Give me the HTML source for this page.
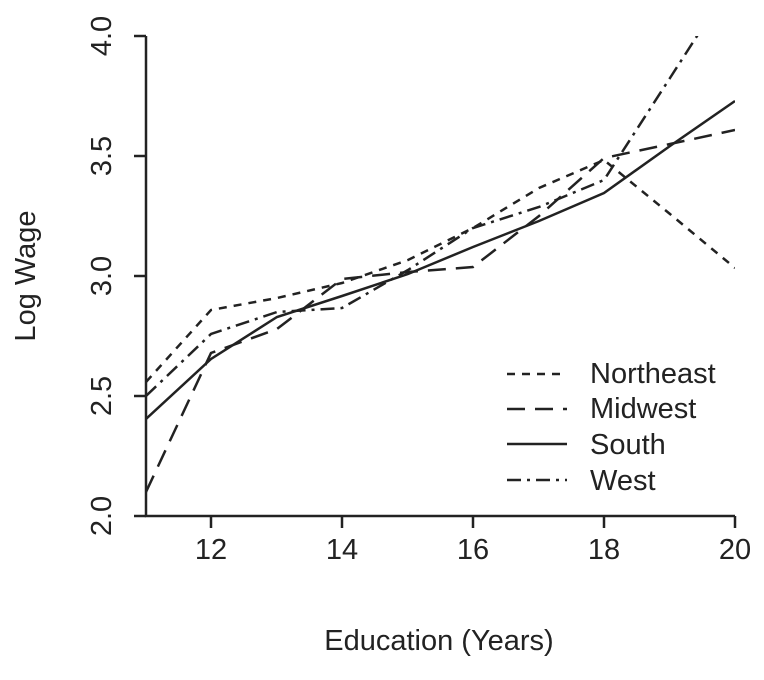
<!DOCTYPE html>
<html><head><style>body{margin:0;background:#fff}</style></head><body>
<svg width="764" height="675" xmlns="http://www.w3.org/2000/svg" font-family="Liberation Sans, sans-serif" font-size="29" fill="#222">
<defs><clipPath id="c"><rect x="146" y="36" width="589" height="480"/></clipPath></defs>
<g stroke="#222" stroke-width="2.5" fill="none">
<path d="M146,36V516H735"/>
<path d="M146,516H134M146,396H134M146,276H134M146,156H134M146,36H134"/>
<path d="M211,516v12M342,516v12M473,516v12M604,516v12M735,516v12"/>
<g clip-path="url(#c)">
<polyline stroke-dasharray="8,7" points="146,382 211,310 277,298 342,283 408,260 473,228 539,188 604,160 670,214 735,268"/>
<polyline stroke-dasharray="18,10" points="146,492 211,353 277,329 342,279 408,272 473,267 539,216 604,158 670,144 735,130"/>
<polyline points="146,419 211,359 277,317 342,296 408,274 473,247 539,221 604,193 670,146 735,101"/>
<polyline stroke-dasharray="14,6,3,6" points="146,396 211,334 277,312 342,308 408,270 473,228 539,207 604,180 670,78 735,-23"/>
</g>
<line x1="507" y1="374" x2="567" y2="374" stroke-dasharray="8,7"/>
<line x1="507" y1="409" x2="567" y2="409" stroke-dasharray="18,10"/>
<line x1="507" y1="444" x2="567" y2="444"/>
<line x1="507" y1="480" x2="567" y2="480" stroke-dasharray="14,6,3,6"/>
</g>
<g text-anchor="middle">
<text x="211" y="559">12</text><text x="342" y="559">14</text><text x="473" y="559">16</text><text x="604" y="559">18</text><text x="735" y="559">20</text>
<text x="439" y="650">Education (Years)</text>
<text transform="translate(111,516) rotate(-90)">2.0</text>
<text transform="translate(111,396) rotate(-90)">2.5</text>
<text transform="translate(111,276) rotate(-90)">3.0</text>
<text transform="translate(111,156) rotate(-90)">3.5</text>
<text transform="translate(111,36) rotate(-90)">4.0</text>
<text transform="translate(35,276) rotate(-90)">Log Wage</text>
</g>
<text x="590" y="383">Northeast</text>
<text x="590" y="418">Midwest</text>
<text x="590" y="454">South</text>
<text x="590" y="490">West</text>
</svg>
</body></html>
